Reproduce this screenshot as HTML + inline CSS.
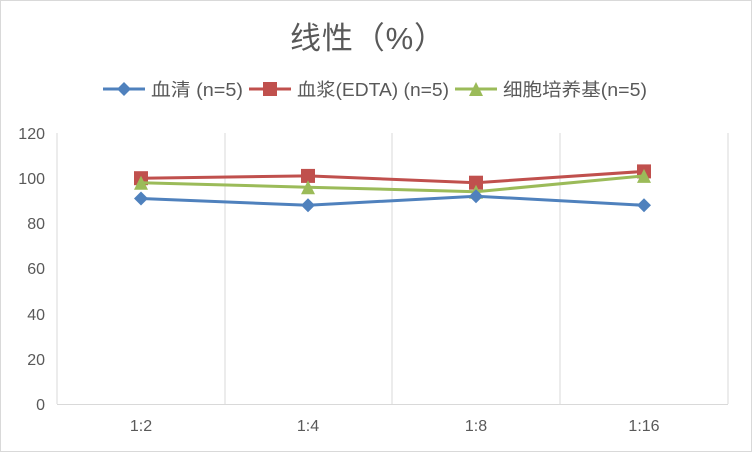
<!DOCTYPE html>
<html><head><meta charset="utf-8"><style>
body{margin:0;background:#fff}
svg{display:block}
text{font-family:"Liberation Sans","Noto Sans CJK SC",sans-serif;fill:#595959}
</style></head><body>
<svg width="752" height="452" viewBox="0 0 752 452">
<rect x="0.5" y="0.5" width="751" height="451" fill="#fff" stroke="#d9d9d9"/>
<text x="290" y="49" font-size="31" textLength="155" lengthAdjust="spacing" fill="#595959">线性（%）</text>
<!-- legend -->
<g font-size="18">
<line x1="103" y1="89" x2="145" y2="89" stroke="#4f81bd" stroke-width="3"/>
<polygon points="124,82 131,89 124,96 117,89" fill="#4f81bd"/>
<text x="151" y="96" textLength="92" lengthAdjust="spacingAndGlyphs">血清 (n=5)</text>
<line x1="249" y1="89" x2="291" y2="89" stroke="#c0504d" stroke-width="3"/>
<rect x="263" y="82" width="14" height="14" fill="#c0504d"/>
<text x="297" y="96" textLength="152" lengthAdjust="spacingAndGlyphs">血浆(EDTA) (n=5)</text>
<line x1="455" y1="89" x2="497" y2="89" stroke="#9bbb59" stroke-width="3"/>
<polygon points="476,82 483,96 469,96" fill="#9bbb59"/>
<text x="503" y="96" textLength="144" lengthAdjust="spacingAndGlyphs">细胞培养基(n=5)</text>
</g>
<!-- grid -->
<g stroke="#d9d9d9" stroke-width="1">
<line x1="225" y1="133" x2="225" y2="404"/>
<line x1="392" y1="133" x2="392" y2="404"/>
<line x1="560" y1="133" x2="560" y2="404"/>
<line x1="728" y1="133" x2="728" y2="404"/>
<line x1="57" y1="133" x2="57" y2="404"/>
<line x1="57" y1="404.5" x2="728" y2="404.5"/>
</g>
<g font-size="16" text-anchor="end">
<text x="45" y="410">0</text>
<text x="45" y="365">20</text>
<text x="45" y="320">40</text>
<text x="45" y="274">60</text>
<text x="45" y="229">80</text>
<text x="45" y="184">100</text>
<text x="45" y="139">120</text>
</g>
<g font-size="16" text-anchor="middle">
<text x="141" y="431">1:2</text>
<text x="308" y="431">1:4</text>
<text x="476" y="431">1:8</text>
<text x="644" y="431">1:16</text>
</g>
<polyline points="141,178.2 308,175.9 476,182.7 644,171.4" fill="none" stroke="#c0504d" stroke-width="3"/>
<g fill="#c0504d">
<rect x="134" y="171.2" width="14" height="14"/><rect x="301" y="168.9" width="14" height="14"/>
<rect x="469" y="175.7" width="14" height="14"/><rect x="637" y="164.4" width="14" height="14"/>
</g>
<polyline points="141,182.7 308,187.2 476,191.7 644,175.9" fill="none" stroke="#9bbb59" stroke-width="3"/>
<g fill="#9bbb59">
<polygon points="141,175.7 148,189.7 134,189.7"/><polygon points="308,180.2 315,194.2 301,194.2"/>
<polygon points="476,184.7 483,198.7 469,198.7"/><polygon points="644,168.9 651,182.9 637,182.9"/>
</g>
<polyline points="141,198.5 308,205.3 476,196.2 644,205.3" fill="none" stroke="#4f81bd" stroke-width="3"/>
<g fill="#4f81bd">
<polygon points="141,191.5 148,198.5 141,205.5 134,198.5"/><polygon points="308,198.3 315,205.3 308,212.3 301,205.3"/>
<polygon points="476,189.2 483,196.2 476,203.2 469,196.2"/><polygon points="644,198.3 651,205.3 644,212.3 637,205.3"/>
</g>
</svg>
</body></html>
